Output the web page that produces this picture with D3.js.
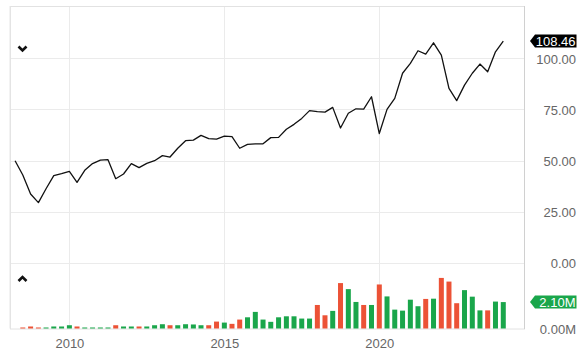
<!DOCTYPE html>
<html>
<head>
<meta charset="utf-8">
<script src="https://cdn.jsdelivr.net/npm/d3@7"></script>
<style>
  body { margin: 0; background: #fff; }
  svg { display: block; font-family: "Liberation Sans", Arial, sans-serif; }
  .axis text { fill: #666; font-size: 13px; }
  .axis path, .axis line { display: none; }
  .grid line { stroke: #ebebeb; stroke-width: 1; }
</style>
</head>
<body>
<svg id="chart"></svg>
<script>
// quarterly closes, first quarter starts April 2008
const firstQuarter = new Date(2008, 3, 1);
const closes = [
  49.9, 42.9, 33.6, 29.4, 36.2, 42.6, 43.6, 44.7, 39.3, 45.2,
  48.5, 50.2, 50.4, 41.1, 43.4, 48.5, 46.5, 48.6, 49.9, 52.4,
  51.7, 56.0, 59.7, 60.0, 62.3, 60.7, 60.5, 61.9, 61.7, 56.0,
  57.9, 58.1, 58.2, 61.2, 61.3, 65.3, 67.7, 70.6, 74.4, 73.9,
  73.7, 76.0, 65.9, 73.1, 75.3, 75.1, 81.2, 63.2, 75.0, 80.4,
  92.7, 97.5, 103.7, 102.1, 107.6, 101.6, 85.3, 79.3, 86.9, 92.7,
  97.2, 93.4, 103.2, 108.46
];
// volume in millions (no bar for the first quarter)
const volumes = [
  null, 0.08, 0.16, 0.08, 0.08, 0.16, 0.16, 0.26, 0.16, 0.08,
  0.08, 0.08, 0.08, 0.26, 0.16, 0.16, 0.16, 0.16, 0.26, 0.34,
  0.26, 0.26, 0.34, 0.32, 0.26, 0.26, 0.55, 0.47, 0.37, 0.71,
  0.89, 1.32, 0.71, 0.53, 0.89, 0.97, 0.97, 0.79, 0.79, 1.87,
  1.05, 1.40, 3.61, 3.13, 2.11, 1.87, 1.87, 3.50, 2.55, 1.50,
  1.42, 2.29, 1.77, 2.35, 2.37, 4.02, 3.73, 2.01, 3.05, 2.53,
  1.44, 1.44, 2.14, 2.10
];
const yearTicks = [2010, 2015, 2020];
const priceTicks = [0, 25, 50, 75, 100];
const volumeTicks = [0];

const data = closes.map((c, i) => ({
  date: d3.timeMonth.offset(firstQuarter, 3 * i),
  close: c,
  volume: volumes[i],
  up: i === 0 ? true : c >= closes[i - 1]
}));

const W = 587, H = 351;
const plot = { left: 11, right: 524.5, top: 6, priceBottom: 262.7, volBottom: 328.5 };

const svg = d3.select('#chart').attr('width', W).attr('height', H);

const xScale = d3.scaleTime()
  .domain([new Date(2008, 1, 13), new Date(2024, 8, 7)])
  .range([plot.left, plot.right]);

const yScale = d3.scaleLinear()
  .domain([0, 125.6])
  .range([plot.priceBottom, plot.top]);

const vScale = d3.scaleLinear()
  .domain([0, 5.23])
  .range([plot.volBottom, plot.priceBottom]);

// gridlines
const grid = svg.append('g').attr('class', 'grid');
grid.selectAll('.hgrid')
  .data(priceTicks)
  .join('line')
  .attr('class', 'hgrid')
  .attr('x1', plot.left).attr('x2', plot.right)
  .attr('y1', d => Math.round(yScale(d)) + 0.5)
  .attr('y2', d => Math.round(yScale(d)) + 0.5);
grid.selectAll('.vgrid')
  .data(yearTicks)
  .join('line')
  .attr('class', 'vgrid')
  .attr('x1', d => Math.round(xScale(new Date(d, 0, 1))) + 0.5)
  .attr('x2', d => Math.round(xScale(new Date(d, 0, 1))) + 0.5)
  .attr('y1', plot.top).attr('y2', plot.volBottom);

// frame
svg.append('rect')
  .attr('x', plot.left - 0.5).attr('y', plot.top + 0.5)
  .attr('width', plot.right - plot.left + 0.5)
  .attr('height', plot.volBottom - plot.top)
  .attr('fill', 'none')
  .attr('stroke', '#e2e2e2');
svg.append('line')
  .attr('x1', plot.right).attr('x2', plot.right)
  .attr('y1', plot.top).attr('y2', plot.volBottom + 0.5)
  .attr('stroke', '#d0d0d0');
svg.append('line')
  .attr('x1', plot.left - 1).attr('x2', plot.left - 1)
  .attr('y1', plot.top).attr('y2', plot.volBottom)
  .attr('stroke', '#e6e6e6');

// volume bars
const barW = 5;
svg.append('g').selectAll('rect')
  .data(data.filter(d => d.volume !== null))
  .join('rect')
  .attr('x', d => xScale(d.date) - barW / 2)
  .attr('width', barW)
  .attr('y', d => vScale(d.volume))
  .attr('height', d => vScale(0) - vScale(d.volume))
  .attr('fill', d => d.up ? '#1aa64b' : '#ec5236');

// price line
const line = d3.line()
  .x(d => xScale(d.date))
  .y(d => yScale(d.close));
svg.append('path')
  .datum(data)
  .attr('d', line)
  .attr('fill', 'none')
  .attr('stroke', '#111')
  .attr('stroke-width', 1.3)
  .attr('stroke-linejoin', 'round');

// axes
const labelRight = 576;
const yAxisG = svg.append('g')
  .attr('class', 'axis')
  .attr('transform', `translate(${labelRight},0)`)
  .call(d3.axisRight(yScale).tickValues(priceTicks).tickSize(0).tickPadding(0).tickFormat(d3.format('.2f')));
yAxisG.selectAll('text').attr('text-anchor', 'end').attr('dy', '0.36em');

const vAxisG = svg.append('g')
  .attr('class', 'axis')
  .attr('transform', `translate(${labelRight},0)`)
  .call(d3.axisRight(vScale).tickValues(volumeTicks).tickSize(0).tickPadding(0).tickFormat(d => d3.format('.2f')(d) + 'M'));
vAxisG.selectAll('text').attr('text-anchor', 'end').attr('dy', '0.36em');

const xAxisG = svg.append('g')
  .attr('class', 'axis')
  .attr('transform', `translate(0,${plot.volBottom})`)
  .call(d3.axisBottom(xScale)
    .tickValues(yearTicks.map(y => new Date(y, 0, 1)))
    .tickSize(0).tickPadding(10)
    .tickFormat(d3.timeFormat('%Y')));

// last value markers
function valueTag(y, text, fill) {
  const tip = 530, h = 13;
  const g = svg.append('g');
  g.append('path')
    .attr('d', `M${tip},${y} L${tip + 5},${y - h / 2} L${labelRight + 0.5},${y - h / 2} L${labelRight + 0.5},${y + h / 2} L${tip + 5},${y + h / 2} Z`)
    .attr('fill', fill);
  g.append('text')
    .attr('x', labelRight - 0.5)
    .attr('y', y)
    .attr('dy', '0.36em')
    .attr('text-anchor', 'end')
    .attr('fill', '#fff')
    .style('font-size', '13px')
    .text(text);
}
const last = data[data.length - 1];
valueTag(yScale(last.close), d3.format('.2f')(last.close), '#000');
valueTag(vScale(last.volume), d3.format('.2f')(last.volume) + 'M', '#1aa64b');

// collapse chevrons
svg.append('path')
  .attr('d', 'M18.5,46.5 L22.5,50.5 L26.5,46.5')
  .attr('fill', 'none').attr('stroke', '#111').attr('stroke-width', 2.6);
svg.append('path')
  .attr('d', 'M18.5,281 L22.5,277 L26.5,281')
  .attr('fill', 'none').attr('stroke', '#111').attr('stroke-width', 2.6);
</script>
</body>
</html>
